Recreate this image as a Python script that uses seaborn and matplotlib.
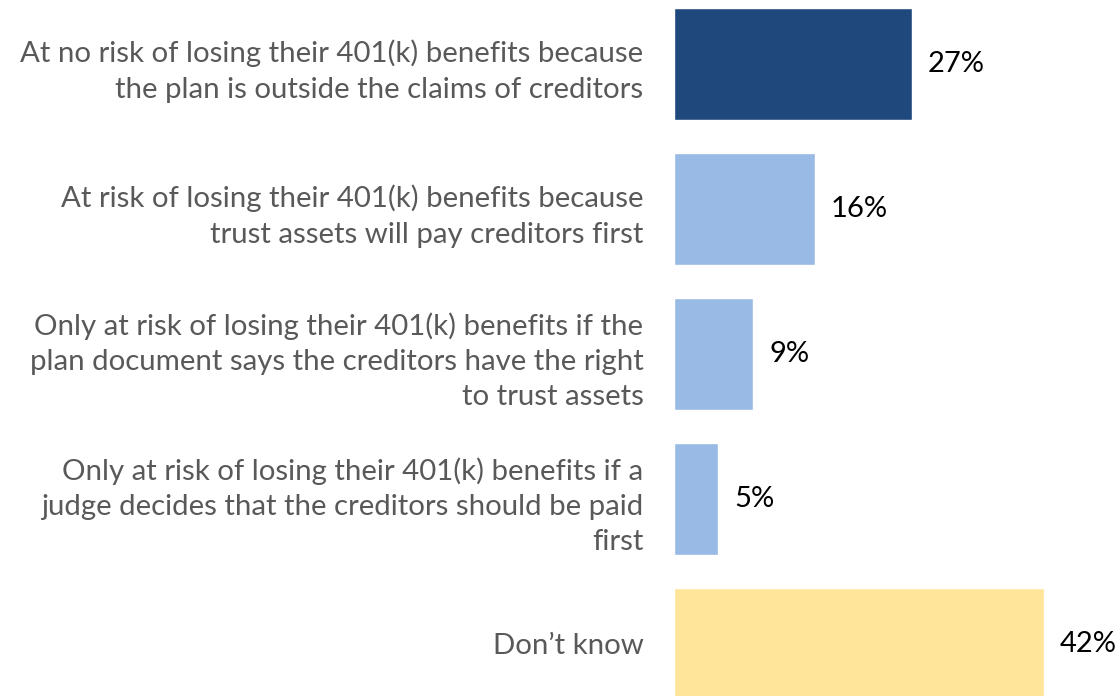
import matplotlib
matplotlib.use("Agg")
import matplotlib.pyplot as plt
import seaborn as sns
import pandas as pd

categories = [
    "At no risk of losing their 401(k) benefits because\nthe plan is outside the claims of creditors",
    "At risk of losing their 401(k) benefits because\ntrust assets will pay creditors first",
    "Only at risk of losing their 401(k) benefits if the\nplan document says the creditors have the right\nto trust assets",
    "Only at risk of losing their 401(k) benefits if a\njudge decides that the creditors should be paid\nfirst",
    "Don\u2019t know",
]
values = [27, 16, 9, 5, 42]
bar_colors = ["#1F497D", "#99BAE4", "#99BAE4", "#99BAE4", "#FFE599"]

sns.set_theme(style="white")
plt.rcParams["font.family"] = ["Lato", "DejaVu Sans"]

df = pd.DataFrame({"answer": categories, "share": values})

fig = plt.figure(figsize=(11.18, 6.96), dpi=100)
ax = fig.add_axes([674 / 1118, 0, 444 / 1118, 1])

sns.barplot(data=df, y="answer", x="share", hue="answer", palette=bar_colors,
            orient="h", width=0.77, legend=False, ax=ax, saturation=1)

ax.set_xlim(0, 444 / 8.81)
ax.set_ylim(4.359, -0.441)
ax.set_xlabel("")
ax.set_ylabel("")
ax.set_xticks([])
for s in ax.spines.values():
    s.set_visible(False)

ax.tick_params(axis="y", length=0, pad=22, labelsize=21.2, labelcolor="#595959")
for lbl in ax.get_yticklabels():
    lbl.set_multialignment("right")
    lbl.set_linespacing(1.45)

for i, v in enumerate(values):
    ax.annotate(f"{v}%", xy=(v, i), xytext=(11.5, 0), textcoords="offset points",
                va="center", ha="left", fontsize=21, color="#000000")

fig.savefig("out.png", dpi=100)
